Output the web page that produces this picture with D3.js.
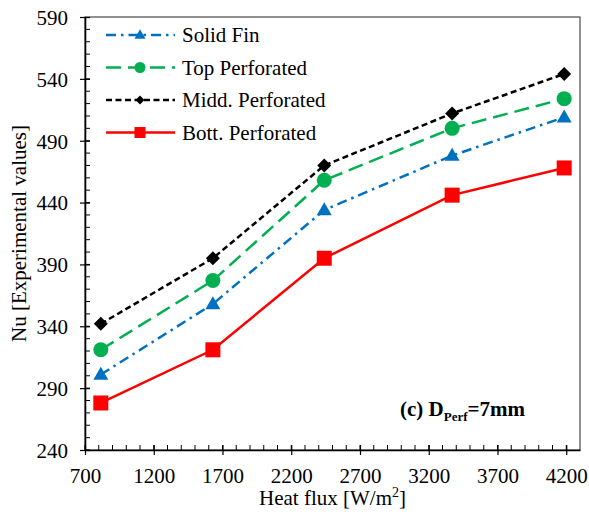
<!DOCTYPE html>
<html>
<head>
<meta charset="utf-8">
<script src="https://cdnjs.cloudflare.com/ajax/libs/d3/7.8.5/d3.min.js"></script>
<style>
  body { margin: 0; background: #fff; }
  text { font-family: "Liberation Serif", "Times New Roman", serif; fill: #000; }
</style>
</head>
<body>
<svg id="chart" width="589" height="512"></svg>
<script>
const heatFlux = [815, 1630, 2440, 3370, 4185];
const solidFin = [301, 358, 434, 478, 509];
const topPerf = [321, 377, 458, 500, 524];
const middPerf = [342, 395, 470, 512, 544];
const bottPerf = [278, 321, 395, 446, 468];
const xTicks = [700, 1200, 1700, 2200, 2700, 3200, 3700, 4200];
const yTicks = [240, 290, 340, 390, 440, 490, 540, 590];

const series = [
  { name: "Solid Fin", values: solidFin, color: "#0070C0", dash: "10,5,2.5,5", marker: "triangle" },
  { name: "Top Perforated", values: topPerf, color: "#00B050", dash: "15,7", marker: "circle" },
  { name: "Midd. Perforated", values: middPerf, color: "#000000", dash: "6,3.5", marker: "diamond" },
  { name: "Bott. Perforated", values: bottPerf, color: "#FF0000", dash: null, marker: "square" }
];

const margin = { top: 17, right: 9, bottom: 62, left: 85 };
const width = 589, height = 512;
const fontFam = "'Liberation Serif', 'Times New Roman', serif";
const svg = d3.select("#chart");

const x = d3.scaleLinear().domain([700, 4300]).range([margin.left, width - margin.right]);
const y = d3.scaleLinear().domain([240, 590]).range([height - margin.bottom, margin.top]);

// frame (top/right)
svg.append("rect")
  .attr("x", margin.left).attr("y", margin.top)
  .attr("width", width - margin.right - margin.left)
  .attr("height", height - margin.bottom - margin.top)
  .attr("fill", "none").attr("stroke", "#222").attr("stroke-width", 1);

// minor ticks (inside)
const xMinor = d3.range(700, 4300, 100);
svg.append("g").selectAll("line").data(xMinor).join("line")
  .attr("x1", d => x(d)).attr("x2", d => x(d))
  .attr("y1", y(240)).attr("y2", y(240) - 5)
  .attr("stroke", "#000").attr("stroke-width", 1);
const yMinor = d3.range(240, 590, 10);
svg.append("g").selectAll("line").data(yMinor).join("line")
  .attr("x1", x(700)).attr("x2", x(700) + 5)
  .attr("y1", d => y(d)).attr("y2", d => y(d))
  .attr("stroke", "#000").attr("stroke-width", 1);

// axes
const xAxis = svg.append("g")
  .attr("transform", `translate(0,${y(240)})`)
  .call(d3.axisBottom(x).tickValues(xTicks).tickFormat(d3.format("d"))
    .tickSize(5).tickSizeOuter(0).tickPadding(13));
const yAxis = svg.append("g")
  .attr("transform", `translate(${x(700)},0)`)
  .call(d3.axisLeft(y).tickValues(yTicks).tickFormat(d3.format("d"))
    .tickSize(5).tickSizeOuter(0).tickPadding(12));

[xAxis, yAxis].forEach(g => {
  g.attr("font-family", fontFam).attr("font-size", 21);
  g.select(".domain").attr("stroke-width", 1.6);
  g.selectAll(".tick line").attr("stroke-width", 1.2);
  g.selectAll(".tick text").attr("fill", "#000");
});
// major ticks cross the axis
xAxis.selectAll(".tick line").attr("y1", -5).attr("y2", 5);
yAxis.selectAll(".tick line").attr("x1", 5).attr("x2", -5);
yAxis.selectAll(".tick text").attr("dy", "0.35em");

// axis titles
svg.append("text")
  .attr("x", (margin.left + width - margin.right) / 2).attr("y", 505)
  .attr("text-anchor", "middle").style("font-size", "21px")
  .html("Heat flux [W/m<tspan dy='-8' font-size='14'>2</tspan><tspan dy='8'>]</tspan>");
svg.append("text")
  .attr("transform", `translate(26,${(margin.top + height - margin.bottom) / 2}) rotate(-90)`)
  .attr("text-anchor", "middle").style("font-size", "21px")
  .text("Nu [Experimental values]");

function drawMarker(g, type, color, s) {
  if (type === "circle") {
    g.append("circle").attr("r", s / 2).attr("fill", color);
  } else if (type === "square") {
    g.append("rect").attr("x", -s / 2).attr("y", -s / 2).attr("width", s).attr("height", s).attr("fill", color);
  } else if (type === "triangle") {
    const h = s * 0.87;
    g.append("path").attr("d", `M0,${-h * 0.6}L${s / 2},${h * 0.4}L${-s / 2},${h * 0.4}Z`).attr("fill", color);
  } else if (type === "diamond") {
    const r = s / 2;
    g.append("path").attr("d", `M0,${-r}L${r},0L0,${r}L${-r},0Z`).attr("fill", color);
  }
}

const markerSize = { triangle: 15, circle: 15, diamond: 14, square: 15 };
const legendMarkerSize = { triangle: 11, circle: 11, diamond: 9, square: 11 };

const line = d3.line().x(d => x(d[0])).y(d => y(d[1]));

series.forEach(s => {
  const pts = heatFlux.map((hf, i) => [hf, s.values[i]]);
  svg.append("path").datum(pts)
    .attr("d", line)
    .attr("fill", "none")
    .attr("stroke", s.color)
    .attr("stroke-width", 2.5)
    .attr("stroke-dasharray", s.dash);
  svg.append("g").selectAll("g").data(pts).join("g")
    .attr("transform", d => `translate(${x(d[0])},${y(d[1])})`)
    .each(function () { drawMarker(d3.select(this), s.marker, s.color, markerSize[s.marker]); });
});

// legend
const legend = svg.append("g");
series.forEach((s, i) => {
  const ly = 35 + i * 32.5;
  const g = legend.append("g").attr("transform", `translate(0,${ly})`);
  g.append("line").attr("x1", 106).attr("x2", 175).attr("y1", 0).attr("y2", 0)
    .attr("stroke", s.color).attr("stroke-width", 2.5).attr("stroke-dasharray", s.dash);
  const m = g.append("g").attr("transform", "translate(140,0)");
  drawMarker(m, s.marker, s.color, legendMarkerSize[s.marker]);
  g.append("text").attr("x", 182).attr("y", 7).style("font-size", "21px").text(s.name);
});

// annotation
svg.append("text")
  .attr("x", 400).attr("y", 416)
  .style("font-size", "21px").style("font-weight", "bold")
  .html("(c) D<tspan dy='5' font-size='13'>Perf</tspan><tspan dy='-5'>=7mm</tspan>");
</script>
</body>
</html>
